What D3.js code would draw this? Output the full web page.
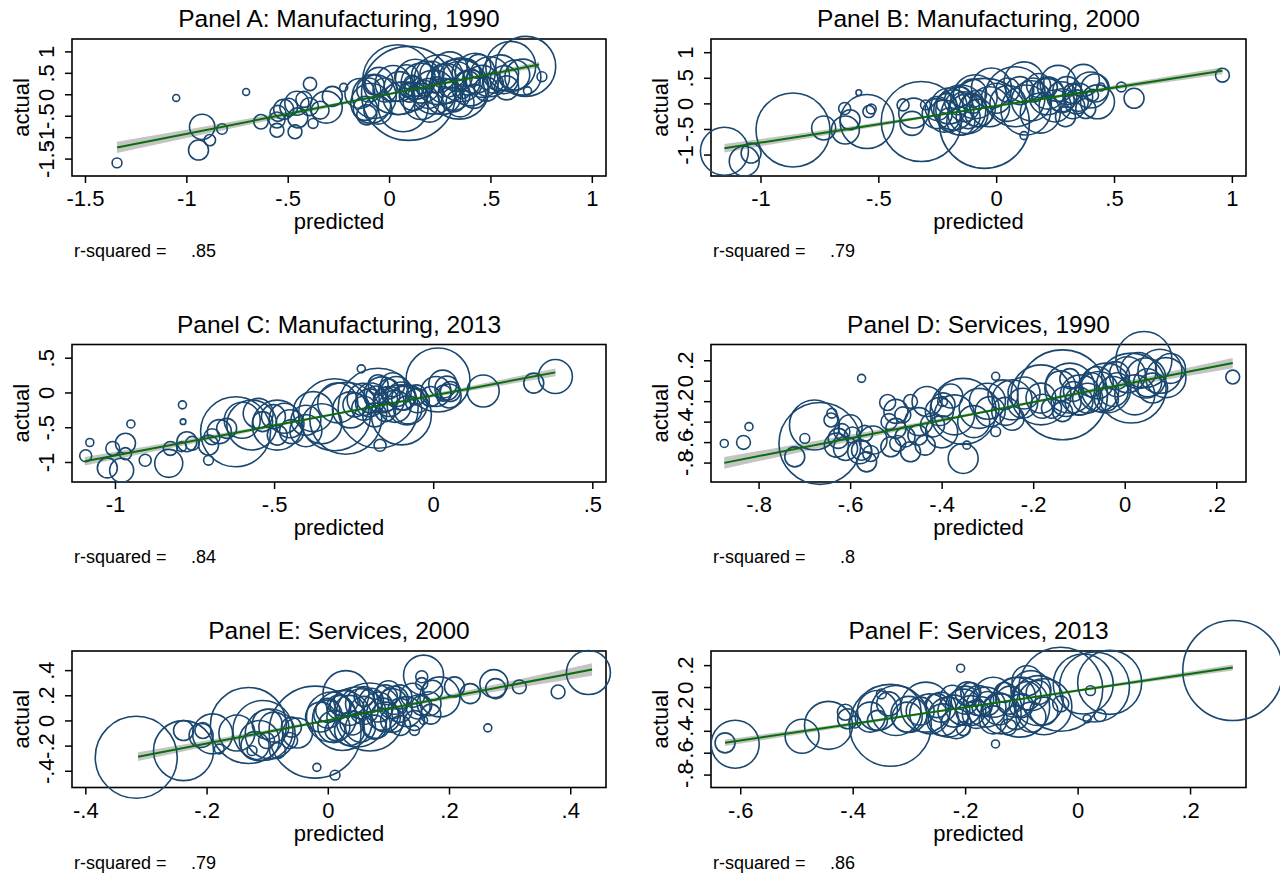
<!DOCTYPE html>
<html><head><meta charset="utf-8">
<script src="https://cdn.jsdelivr.net/npm/d3@7"></script>
<style>
html,body{margin:0;padding:0;background:#fff;}
svg{display:block;font-family:"Liberation Sans",Arial,Helvetica,sans-serif;}
</style></head>
<body><svg id="chart" width="1280" height="877"></svg>
<script>
// ---------------- DATA ----------------
const titles = ["Panel A: Manufacturing, 1990","Panel B: Manufacturing, 2000","Panel C: Manufacturing, 2013",
                "Panel D: Services, 1990","Panel E: Services, 2000","Panel F: Services, 2013"];
const rSquared = [0.85, 0.79, 0.84, 0.8, 0.79, 0.86];

// Panel A
const pxA = [-1.342,-1.05,-0.705,-0.922,-0.94,-0.884,-0.824,-0.632,-0.553,-0.548,-0.464,-0.39,-0.455,-0.495,-0.393,-0.375,-0.31,-0.34,-0.224,-0.553,0.096,0.674,0.60,0.754,0.683,0.043,0.345,0.247,0.425,0.496,0.30,0.158,-0.073,-0.117,-0.11,-0.055,-0.02,0.087,0.123,0.05,0.194,0.265,0.336,0.39,0.443,0.158,0.07,0.318,0.514,-0.073,0.212,0.568,-0.144,-0.09,0.354,0.114,0.176,0.087,0.238,0.292,0.363,0.407,
  0.02,0.13,0.22,0.28,0.40,0.46,0.55,0.62,0.05,0.12,0.18,0.32,0.38,0.48,-0.05,0.10,0.27,0.42,0.66,0.58,-0.10,0.20,0.35,-0.52,-0.45,-0.42,-0.28];
const acA = [-1.60,-0.086,0.055,-0.76,-1.30,-1.07,-0.81,-0.64,-0.84,-0.445,-0.875,0.24,-0.21,-0.30,-0.29,-0.68,-0.30,-0.37,0.16,-0.60,0.02,0.65,0.65,0.41,0.08,0.34,0.12,0.34,0.49,0.41,0.57,0.26,-0.05,-0.33,-0.48,-0.37,0.10,0.41,0.18,0.18,0.02,-0.05,0.41,0.26,0.65,-0.17,-0.29,-0.13,0.26,0.22,0.49,0.34,0.02,-0.21,0.34,0.26,0.14,0.10,0.22,0.14,0.06,0.38,
  0.25,0.35,0.05,0.25,0.15,0.30,0.50,0.45,-0.10,-0.05,0.45,0.00,0.50,0.12,0.30,0.05,0.42,-0.05,0.40,0.15,0.10,-0.30,-0.20,-0.35,-0.55,-0.12,-0.05];
const wtA = [6,3,3,40,25,8,7,13,12,16,12,11,36,20,20,6,64,20,4,16,552,225,156,6,4,306,225,156,100,100,81,100,121,36,25,49,36,36,25,56,56,81,56,36,36,81,156,36,25,25,36,49,56,100,121,16,16,12,16,20,12,20,
  81,100,121,100,81,64,81,56,64,49,49,64,49,36,49,25,36,36,81,36,36,56,49,25,25,16,25];
const xTicksA = [-1.5,-1,-0.5,0,0.5,1], yTicksA = [-1.5,-1,-0.5,0,0.5,1];
const fitXA = [-1.342,0.74], fitYA = [-1.240,0.692];
const ciXA = [-1.342,-0.646,0.05,0.395,0.74], ciLoA = [-1.370,-0.663,0.026,0.332,0.624], ciHiA = [-1.110,-0.525,0.076,0.412,0.760];

// Panel B
const pxB = [-1.153,-1.069,-1.04,-0.862,-0.732,-0.64,-0.548,-0.643,-0.583,-0.54,-0.53,-0.62,-0.318,-0.395,-0.357,-0.35,-0.30,-0.05,-0.18,-0.135,-0.089,-0.196,-0.119,-0.211,-0.150,-0.074,-0.028,0.118,0.08,0.126,0.118,0.187,0.217,0.279,0.263,0.37,0.40,0.43,0.409,0.444,0.531,0.585,0.96,0.325,0.294,0.049,0.156,0.217,0.325,0.34,-0.15,0.0,-0.25,-0.1,
  -0.20,-0.12,-0.16,-0.08,-0.22,-0.10,0.05,0.15,0.22,0.30,0.25,0.35,0.42,0.10,0.18,-0.02,0.28,0.38,-0.25,-0.15];
const acB = [-0.935,-1.13,-0.97,-0.52,-0.48,-0.52,-0.355,-0.10,0.21,-0.16,-0.11,-0.32,-0.355,-0.03,-0.39,-0.19,-0.03,-0.39,-0.13,-0.065,0.13,-0.32,-0.26,0.0,0.13,-0.19,-0.065,0.42,0.13,-0.13,-0.63,-0.19,0.13,0.13,0.39,0.45,0.26,0.03,0.16,0.32,0.32,0.10,0.55,-0.065,-0.26,0.26,0.26,0.32,0.19,0.03,-0.13,0.1,-0.2,0.0,
  -0.05,-0.20,0.05,-0.10,-0.25,0.20,0.0,0.05,0.20,0.25,-0.05,0.12,0.30,0.25,0.35,0.30,0.05,-0.10,-0.10,-0.35];
const wtB = [144,56,25,342,36,49,182,9,2,9,6,25,400,9,36,56,6,506,100,56,121,36,36,25,25,49,100,100,225,156,4,100,81,56,81,64,81,72,9,4,6,25,12,36,25,36,36,25,25,36,156,56,56,25,
  81,100,49,81,64,49,81,100,64,49,64,49,49,49,36,100,36,25,36,49];
const xTicksB = [-1,-0.5,0,0.5,1], yTicksB = [-1,-0.5,0,0.5,1];
const fitXB = [-1.153,0.96], fitYB = [-0.877,0.638];
const ciXB = [-1.153,-0.6,-0.05,0.455,0.96], ciLoB = [-0.962,-0.525,-0.106,0.236,0.568], ciHiB = [-0.792,-0.435,-0.066,0.316,0.708];

// Panel C
const pxC = [-1.092,-1.079,-1.024,-0.979,-1.007,-0.967,-0.967,-0.95,-0.905,-0.831,-0.826,-0.788,-0.786,-0.791,-0.774,-0.757,-0.706,-0.706,-0.695,-0.621,-0.570,-0.672,-0.649,-0.49,-0.502,-0.536,-0.468,-0.445,-0.49,-0.40,-0.377,-0.31,-0.275,-0.173,-0.226,-0.167,-0.195,-0.161,-0.139,-0.116,-0.093,-0.173,-0.127,-0.082,-0.218,-0.184,-0.150,-0.246,-0.053,0.015,0.009,0.043,0.032,-0.008,0.054,0.157,0.316,0.384,-0.10,
  -0.20,-0.15,-0.12,-0.18,-0.22,-0.26,-0.10,-0.05,-0.30,-0.35,-0.55,-0.45,-0.60,-0.40,0.03,0.05,-0.14,-0.08];
const acC = [-0.91,-0.72,-1.085,-1.12,-0.805,-0.73,-0.88,-0.453,-0.975,-1.02,-0.805,-0.178,-0.42,-0.78,-0.708,-0.732,-0.975,-0.757,-0.636,-0.565,-0.468,-0.564,-0.516,-0.47,-0.347,-0.419,-0.371,-0.564,-0.613,-0.40,-0.275,-0.32,-0.37,-0.227,0.34,-0.76,-0.08,-0.034,-0.13,0.014,-0.082,0.111,0.111,-0.178,-0.227,-0.323,-0.275,-0.178,-0.034,0.18,0.014,0.063,-0.01,-0.058,0.014,0.02,0.135,0.23,-0.323,
  -0.15,-0.10,-0.20,-0.05,-0.10,-0.25,-0.05,-0.12,-0.15,-0.45,-0.30,-0.45,-0.40,-0.55,0.12,-0.05,0.05,-0.25];
const wtC = [9,4,25,36,12,25,9,4,9,49,12,4,2,6,25,12,6,25,16,306,156,36,25,156,36,25,56,36,25,56,100,324,324,400,4,9,56,81,56,56,36,25,36,100,36,36,25,36,25,256,56,36,16,25,25,64,25,72,225,
  49,36,64,25,64,81,49,36,100,100,56,49,81,64,49,36,25,49];
const xTicksC = [-1,-0.5,0,0.5], yTicksC = [-1,-0.5,0,0.5];
const fitXC = [-1.095,0.384], fitYC = [-0.990,0.289];
const ciXC = [-1.095,-0.70,-0.3,0.04,0.384], ciLoC = [-1.05,-0.684,-0.318,-0.038,0.234], ciHiC = [-0.93,-0.614,-0.288,0.022,0.344];

// Panel D
const pxD = [-0.875,-0.833,-0.821,-0.666,-0.678,-0.699,-0.721,-0.640,-0.642,-0.630,-0.626,-0.610,-0.618,-0.595,-0.575,-0.568,-0.564,-0.579,-0.555,-0.575,-0.518,-0.515,-0.500,-0.496,-0.468,-0.511,-0.485,-0.468,-0.432,-0.452,-0.436,-0.420,-0.405,-0.353,-0.372,-0.397,-0.398,-0.353,-0.345,-0.318,-0.294,-0.282,-0.282,-0.266,-0.246,-0.246,-0.223,-0.183,-0.136,-0.183,-0.120,-0.097,-0.081,-0.128,-0.112,-0.073,-0.057,-0.041,-0.136,-0.160,0.042,0.014,0.046,0.077,0.006,0.022,-0.017,0.061,-0.025,0.236,
  -0.60,-0.55,-0.50,-0.45,-0.40,-0.38,-0.30,-0.26,-0.22,-0.18,-0.14,-0.10,-0.06,-0.04,0.03,0.05,0.09,-0.02,-0.48,-0.33,-0.12,0.10];
const acD = [-0.613,-0.603,-0.449,-0.613,-0.433,-0.564,-0.744,-0.318,-0.384,-0.630,-0.564,-0.662,-0.498,-0.531,-0.679,-0.515,-0.793,-0.695,-0.711,0.023,-0.213,-0.400,-0.466,-0.613,-0.695,-0.646,-0.334,-0.203,-0.203,-0.531,-0.630,-0.433,-0.302,-0.30,-0.334,-0.236,-0.203,-0.76,-0.63,-0.27,-0.302,0.043,-0.498,-0.138,-0.367,-0.187,-0.220,-0.17,-0.138,-0.138,-0.072,-0.138,-0.171,-0.203,-0.105,-0.039,-0.105,-0.072,-0.302,-0.269,0.207,-0.072,0.026,0.092,0.059,-0.138,-0.039,-0.072,-0.105,0.036,
  -0.45,-0.58,-0.30,-0.40,-0.50,-0.15,-0.20,-0.30,-0.12,-0.25,-0.05,-0.20,-0.02,-0.18,0.10,-0.02,0.03,0.05,-0.55,-0.40,0.02,0.12];
const wtD = [4,12,4,420,156,6,25,6,12,36,25,36,16,16,25,16,25,36,16,4,16,16,25,16,25,25,16,12,56,25,25,36,49,272,100,36,6,56,4,100,56,4,6,56,36,100,56,56,506,225,156,100,56,56,25,36,100,156,25,25,196,306,100,121,81,100,36,56,56,12,
  36,49,36,49,64,36,81,49,64,36,56,49,64,36,81,49,100,49,25,64,25,56];
const xTicksD = [-0.8,-0.6,-0.4,-0.2,0,0.2], yTicksD = [-0.8,-0.6,-0.4,-0.2,0,0.2];
const fitXD = [-0.875,0.236], fitYD = [-0.803,0.173];
const ciXD = [-0.875,-0.56,-0.25,0.0,0.236], ciLoD = [-0.860,-0.556,-0.266,-0.061,0.123], ciHiD = [-0.746,-0.496,-0.242,-0.007,0.223];

// Panel E
const pxE = [-0.316,-0.238,-0.238,-0.209,-0.206,-0.19,-0.179,-0.131,-0.107,-0.095,-0.113,-0.101,-0.125,-0.083,-0.089,-0.063,-0.060,-0.021,-0.018,0.012,0.03,0.006,0.024,0.048,0.069,0.0,0.018,0.036,0.054,0.072,0.083,0.095,0.107,0.119,0.095,0.077,0.054,0.036,0.012,-0.012,0.119,0.107,0.143,0.149,0.155,0.143,0.158,0.158,0.155,0.155,0.185,0.209,0.235,0.274,0.277,0.316,0.38,0.264,0.43,0.167,0.173,
  0.00,0.03,0.06,0.09,0.11,0.13,0.08,0.04,0.02,0.10,0.14,0.06,-0.05,-0.10,-0.15,-0.12,0.12,0.17,0.01];
const acE = [-0.293,-0.24,-0.08,-0.12,-0.08,-0.107,-0.227,-0.04,-0.08,-0.107,-0.16,-0.16,-0.24,-0.24,-0.053,-0.16,-0.053,-0.093,-0.373,-0.435,0.213,0.027,0.0,0.027,0.027,0.08,0.107,0.08,0.133,0.16,0.107,0.187,0.133,0.08,0.027,-0.053,-0.053,-0.08,-0.08,0.027,0.187,0.0,0.0,0.107,0.12,-0.08,0.0,0.36,0.347,0.293,0.187,0.267,0.213,0.293,0.253,0.267,0.227,-0.059,0.381,0.133,0.24,
  0.05,0.15,0.08,0.05,0.16,0.07,-0.03,-0.02,0.12,0.22,0.20,0.19,-0.10,-0.03,-0.10,-0.20,-0.04,0.05,-0.05];
const wtE = [420,225,25,36,16,100,6,361,225,156,100,16,6,16,56,16,25,529,4,6,132,156,225,225,289,36,36,56,56,36,56,36,56,36,56,36,56,56,25,56,36,36,25,36,25,6,4,100,9,9,100,25,25,49,25,12,12,4,121,36,25,
  49,36,49,64,49,56,49,36,25,36,36,25,56,56,81,49,25,25,64];
const xTicksE = [-0.4,-0.2,0,0.2,0.4], yTicksE = [-0.4,-0.2,0,0.2,0.4];
const fitXE = [-0.313,0.436], fitYE = [-0.288,0.405];
const ciXE = [-0.313,-0.13,0.05,0.245,0.436], ciLoE = [-0.323,-0.136,0.040,0.204,0.355], ciHiE = [-0.253,-0.100,0.056,0.254,0.455];

// Panel F
const pxF = [0.276,-0.627,-0.609,-0.49,-0.443,-0.413,-0.409,-0.396,-0.333,-0.356,-0.349,-0.336,-0.369,-0.356,-0.323,-0.303,-0.270,-0.263,-0.243,-0.230,-0.216,-0.203,-0.190,-0.176,-0.163,-0.150,-0.203,-0.196,-0.223,-0.208,-0.146,-0.136,-0.123,-0.110,-0.103,-0.083,-0.070,-0.083,-0.090,-0.03,-0.030,0.010,0.030,0.057,0.023,0.017,0.040,-0.06,
  -0.28,-0.25,-0.22,-0.20,-0.18,-0.16,-0.14,-0.12,-0.10,-0.09,-0.07,-0.15,-0.24,-0.30,-0.19,-0.06,-0.11,-0.13,-0.17];
const acF = [0.151,-0.51,-0.523,-0.45,-0.35,-0.23,-0.29,-0.32,-0.35,-0.215,-0.063,-0.154,-0.275,-0.305,-0.215,-0.275,-0.184,-0.245,-0.184,-0.275,-0.335,-0.184,-0.215,-0.124,-0.184,-0.094,-0.381,-0.063,-0.094,0.172,-0.52,-0.245,-0.366,-0.094,-0.184,-0.033,-0.124,-0.275,0.057,-0.02,-0.154,0.027,0.0,0.042,-0.033,-0.290,-0.260,-0.18,
  -0.22,-0.17,-0.22,-0.12,-0.25,-0.15,-0.20,-0.12,-0.17,-0.08,-0.05,-0.30,-0.30,-0.25,-0.05,-0.22,-0.28,-0.05,-0.18];
const wtF = [625,25,144,72,144,16,25,9,420,100,6,36,56,25,156,56,156,100,56,100,56,81,56,56,100,100,12,36,36,4,4,100,16,100,225,100,156,56,56,441,16,225,306,256,6,4,9,196,
  49,36,64,49,49,36,64,49,36,49,36,49,64,81,25,49,36,25,25];
const xTicksF = [-0.6,-0.4,-0.2,0,0.2], yTicksF = [-0.8,-0.6,-0.4,-0.2,0,0.2];
const fitXF = [-0.627,0.276], fitYF = [-0.510,0.178];
const ciXF = [-0.627,-0.39,-0.15,0.06,0.276], ciLoF = [-0.540,-0.344,-0.152,0.001,0.151], ciHiF = [-0.480,-0.314,-0.140,0.027,0.205];

// ---------------- LAYOUT ----------------
const colX = [[72,606],[711,1246]];
const rowY = [[39,176],[344.5,482],[651,787.5]];
const panels = [
  {t:0, col:0,row:0, px:pxA, ac:acA, wt:wtA, xt:xTicksA, yt:yTicksA, xd:[-1.564,1.07], yd:[-1.906,1.289], fx:fitXA, fy:fitYA, cx:ciXA, lo:ciLoA, hi:ciHiA},
  {t:1, col:1,row:0, px:pxB, ac:acB, wt:wtB, xt:xTicksB, yt:yTicksB, xd:[-1.21,1.06], yd:[-1.419,1.258], fx:fitXB, fy:fitYB, cx:ciXB, lo:ciLoB, hi:ciHiB},
  {t:2, col:0,row:1, px:pxC, ac:acC, wt:wtC, xt:xTicksC, yt:yTicksC, xd:[-1.135,0.543], yd:[-1.288,0.69], fx:fitXC, fy:fitYC, cx:ciXC, lo:ciLoC, hi:ciHiC},
  {t:3, col:1,row:1, px:pxD, ac:acD, wt:wtD, xt:xTicksD, yt:yTicksD, xd:[-0.904,0.265], yd:[-0.99,0.354], fx:fitXD, fy:fitYD, cx:ciXD, lo:ciLoD, hi:ciHiD},
  {t:4, col:0,row:2, px:pxE, ac:acE, wt:wtE, xt:xTicksE, yt:yTicksE, xd:[-0.422,0.459], yd:[-0.533,0.552], fx:fitXE, fy:fitYE, cx:ciXE, lo:ciLoE, hi:ciHiE},
  {t:5, col:1,row:2, px:pxF, ac:acF, wt:wtF, xt:xTicksF, yt:yTicksF, xd:[-0.652,0.2995], yd:[-0.918,0.329], fx:fitXF, fy:fitYF, cx:ciXF, lo:ciLoF, hi:ciHiF}
];

function stataFmt(v){
  let s = (+v.toFixed(3)).toString();
  if (s.startsWith("0.")) s = s.slice(1);
  else if (s.startsWith("-0.")) s = "-" + s.slice(2);
  return s;
}

const svg = d3.select("#chart");
svg.append("rect").attr("width",1280).attr("height",877).attr("fill","#fff");
const rScale = d3.scaleSqrt().domain([0,100]).range([0,20]);
const FONT = "'Liberation Sans',Arial,sans-serif";

panels.forEach(p => {
  const [x0,x1] = colX[p.col], [y0,y1] = rowY[p.row];
  const x = d3.scaleLinear().domain(p.xd).range([x0,x1]);
  const y = d3.scaleLinear().domain(p.yd).range([y1,y0]);
  const g = svg.append("g");

  // box
  g.append("rect").attr("x",x0).attr("y",y0).attr("width",x1-x0).attr("height",y1-y0)
    .attr("fill","#fff").attr("stroke","#000").attr("stroke-width",1.6);

  // CI band
  const band = p.cx.map((v,i)=>({x:v, lo:p.lo[i], hi:p.hi[i]}));
  g.append("path").datum(band)
    .attr("d", d3.area().x(d=>x(d.x)).y0(d=>y(d.lo)).y1(d=>y(d.hi)).curve(d3.curveMonotoneX))
    .attr("fill","#c4c4c4");

  // bubbles
  const pts = d3.range(Math.min(p.px.length,p.ac.length,p.wt.length)).map(i=>({x:p.px[i],y:p.ac[i],w:p.wt[i]}));
  g.append("g").selectAll("circle").data(pts).join("circle")
    .attr("cx",d=>x(d.x)).attr("cy",d=>y(d.y)).attr("r",d=>rScale(d.w))
    .attr("fill","none").attr("stroke","#1a476f").attr("stroke-width",1.6);

  // fit line
  g.append("path").datum(p.fx.map((v,i)=>[v,p.fy[i]]))
    .attr("d", d3.line().x(d=>x(d[0])).y(d=>y(d[1])))
    .attr("stroke","#0a6e0a").attr("stroke-width",2).attr("fill","none");

  // x axis
  const xa = g.append("g").attr("transform",`translate(0,${y1})`)
    .call(d3.axisBottom(x).tickValues(p.xt).tickFormat(stataFmt).tickSize(7).tickSizeOuter(0));
  xa.select(".domain").remove();
  xa.selectAll(".tick line").attr("stroke","#000").attr("stroke-width",1.5);
  xa.selectAll(".tick text").attr("y",30).attr("dy",0).attr("fill","#000")
    .style("font-size","22px").style("font-family",FONT);

  // y axis
  const ya = g.append("g").attr("transform",`translate(${x0},0)`)
    .call(d3.axisLeft(y).tickValues(p.yt).tickFormat(stataFmt).tickSize(7).tickSizeOuter(0));
  ya.select(".domain").remove();
  ya.selectAll(".tick line").attr("stroke","#000").attr("stroke-width",1.5);
  ya.selectAll(".tick text").attr("x",0).attr("y",-18).attr("dy",0)
    .attr("transform","rotate(-90)").attr("text-anchor","middle").attr("fill","#000")
    .style("font-size","22px").style("font-family",FONT);

  // titles
  const cx = (x0+x1)/2;
  g.append("text").attr("x",cx).attr("y",y0-12).attr("text-anchor","middle")
    .style("font-size","24.5px").text(titles[p.t]);
  g.append("text").attr("x",cx).attr("y",y1+53).attr("text-anchor","middle")
    .style("font-size","22px").text("predicted");
  g.append("text").attr("transform",`translate(${x0-43},${(y0+y1)/2}) rotate(-90)`)
    .attr("text-anchor","middle").style("font-size","22px").text("actual");

  // r-squared note
  g.append("text").attr("x",x0+2).attr("y",y1+81).style("font-size","18px").text("r-squared =");
  g.append("text").attr("x",x0+144).attr("y",y1+81).attr("text-anchor","end")
    .style("font-size","18px").text(stataFmt(rSquared[p.t]));
});
</script></body></html>
